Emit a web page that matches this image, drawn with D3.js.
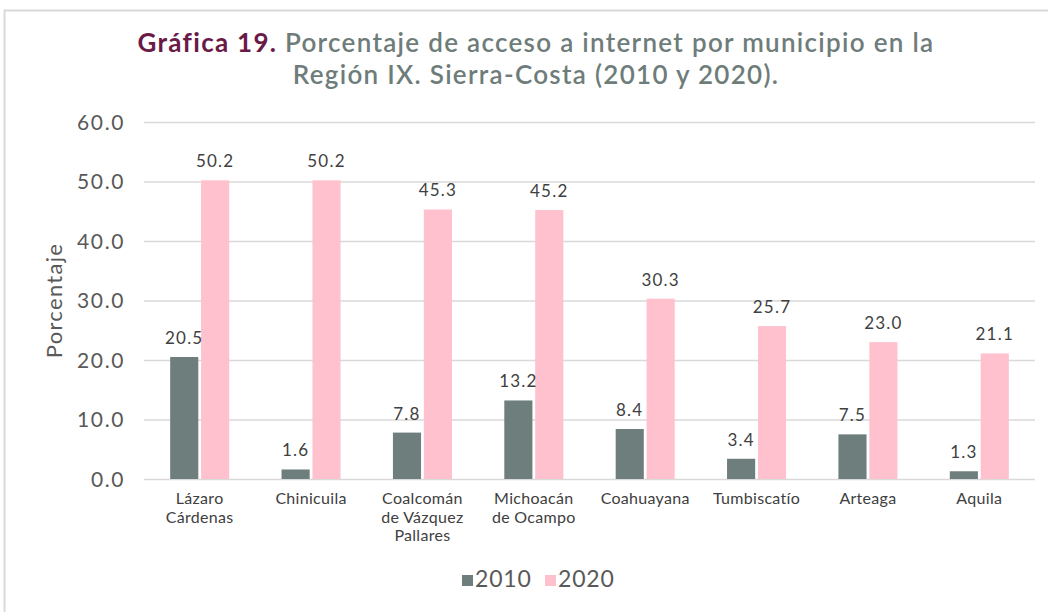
<!DOCTYPE html>
<html>
<head>
<meta charset="utf-8">
<script src="https://cdn.jsdelivr.net/npm/d3@7"></script>
<style>
  body { margin: 0; background: #fff; }
  text { font-family: Lato, "Open Sans", sans-serif; }
</style>
</head>
<body>
<div id="chart"></div>
<script>
var municipios = [["Lázaro", "Cárdenas"], ["Chinicuila"], ["Coalcomán", "de Vázquez", "Pallares"],
    ["Michoacán", "de Ocampo"], ["Coahuayana"], ["Tumbiscatío"], ["Arteaga"], ["Aquila"]];
var series = ["2010", "2020"];
var valores2010 = [20.5, 1.6, 7.8, 13.2, 8.4, 3.4, 7.5, 1.3];
var valores2020 = [50.2, 50.2, 45.3, 45.2, 30.3, 25.7, 23.0, 21.1];
var yTicks = [0, 10, 20, 30, 40, 50, 60];

var colores = {"2010": "#6e7e7c", "2020": "#ffc1ce"};

var width = 1048, height = 612;
var margin = {top: 122, right: 13, bottom: 133, left: 144};

var svg = d3.select("#chart").append("svg")
    .attr("width", width)
    .attr("height", height);

// card border
svg.append("path")
    .attr("d", "M4.5," + height + " L4.5,10.5 L" + width + ",10.5")
    .attr("fill", "none")
    .attr("stroke", "#d9d9d9")
    .attr("stroke-width", 2);

// title
var title = svg.append("text")
    .attr("x", 536)
    .attr("y", 52)
    .attr("text-anchor", "middle")
    .style("font-size", "26px")
    .style("font-weight", "600")
    .style("letter-spacing", "1.3px");
title.append("tspan").attr("fill", "#6a1a46").style("font-weight", "700").text("Gráfica 19. ");
title.append("tspan").attr("fill", "#6e7c7a")
    .text("Porcentaje de acceso a internet por municipio en la");
svg.append("text")
    .attr("x", 536)
    .attr("y", 84)
    .attr("text-anchor", "middle")
    .attr("fill", "#6e7c7a")
    .style("font-size", "26px")
    .style("font-weight", "600")
    .style("letter-spacing", "1.3px")
    .text("Región IX. Sierra-Costa (2010 y 2020).");

var x0 = d3.scaleBand()
    .domain(d3.range(municipios.length))
    .range([margin.left, width - margin.right])
    .paddingInner(0.47)
    .paddingOuter(0.235);

var x1 = d3.scaleBand()
    .domain(series)
    .range([0, x0.bandwidth()])
    .paddingInner(0.09);

var y = d3.scaleLinear()
    .domain([0, 60])
    .range([height - margin.bottom, margin.top]);

// gridlines
svg.append("g")
    .selectAll("line")
    .data(yTicks)
    .enter()
    .append("line")
        .attr("x1", margin.left)
        .attr("x2", width - margin.right)
        .attr("y1", function(d) { return y(d) + 0.5; })
        .attr("y2", function(d) { return y(d) + 0.5; })
        .attr("stroke", "#d9d9d9")
        .attr("stroke-width", 1.5);

// y axis
var yAxis = svg.append("g")
    .attr("transform", "translate(" + (margin.left - 16) + ",0)")
    .call(d3.axisLeft(y).tickValues(yTicks).tickSize(0).tickFormat(d3.format(".1f")));
yAxis.select(".domain").remove();
yAxis.selectAll("text")
    .attr("fill", "#595959")
    .style("font-size", "21px")
    .style("letter-spacing", "1.6px")
    .attr("dy", "0.35em");

svg.append("text")
    .attr("transform", "translate(62," + ((margin.top + height - margin.bottom) / 2) + ") rotate(-90)")
    .attr("text-anchor", "middle")
    .attr("fill", "#595959")
    .style("font-size", "22px")
    .style("letter-spacing", "1.3px")
    .text("Porcentaje");

// bars
var data = municipios.map(function(m, i) {
    return [{serie: "2010", valor: valores2010[i]}, {serie: "2020", valor: valores2020[i]}];
});

var grupos = svg.append("g")
    .selectAll("g")
    .data(data)
    .enter()
    .append("g")
        .attr("transform", function(d, i) { return "translate(" + x0(i) + ",0)"; });

grupos.selectAll("rect")
    .data(function(d) { return d; })
    .enter()
    .append("rect")
        .attr("x", function(d) { return x1(d.serie); })
        .attr("y", function(d) { return y(d.valor); })
        .attr("width", x1.bandwidth())
        .attr("height", function(d) { return y(0) - y(d.valor); })
        .attr("fill", function(d) { return colores[d.serie]; });

grupos.selectAll(".etiqueta")
    .data(function(d) { return d; })
    .enter()
    .append("text")
        .classed("etiqueta", true)
        .attr("x", function(d) { return x1(d.serie) + x1.bandwidth() / 2; })
        .attr("y", function(d) { return y(d.valor) - 13; })
        .attr("text-anchor", "middle")
        .attr("fill", "#404040")
        .style("font-size", "17px")
        .style("letter-spacing", "1.2px")
        .text(function(d) { return d3.format(".1f")(d.valor); });

// category labels
var cats = svg.append("g")
    .selectAll("text")
    .data(municipios)
    .enter()
    .append("text")
        .attr("x", function(d, i) { return x0(i) + x0.bandwidth() / 2; })
        .attr("y", y(0) + 25)
        .attr("text-anchor", "middle")
        .attr("fill", "#404040")
        .style("font-size", "16px")
        .style("letter-spacing", "0.3px");
cats.selectAll("tspan")
    .data(function(d) { return d; })
    .enter()
    .append("tspan")
        .attr("x", function() { return d3.select(this.parentNode).attr("x"); })
        .attr("dy", function(d, i) { return i === 0 ? 0 : 18.5; })
        .text(function(d) { return d; });

// legend
var legend = svg.append("g")
    .attr("transform", "translate(462,587)");
var items = legend.selectAll("g")
    .data(series)
    .enter()
    .append("g")
        .attr("transform", function(d, i) { return "translate(" + (i * 83) + ",0)"; });
items.append("rect")
    .attr("x", 0)
    .attr("y", -12)
    .attr("width", 11)
    .attr("height", 11)
    .attr("fill", function(d) { return colores[d]; });
items.append("text")
    .attr("x", 13)
    .attr("y", 0)
    .attr("fill", "#595959")
    .style("font-size", "23px")
    .style("letter-spacing", "0.8px")
    .text(function(d) { return d; });
</script>
</body>
</html>
